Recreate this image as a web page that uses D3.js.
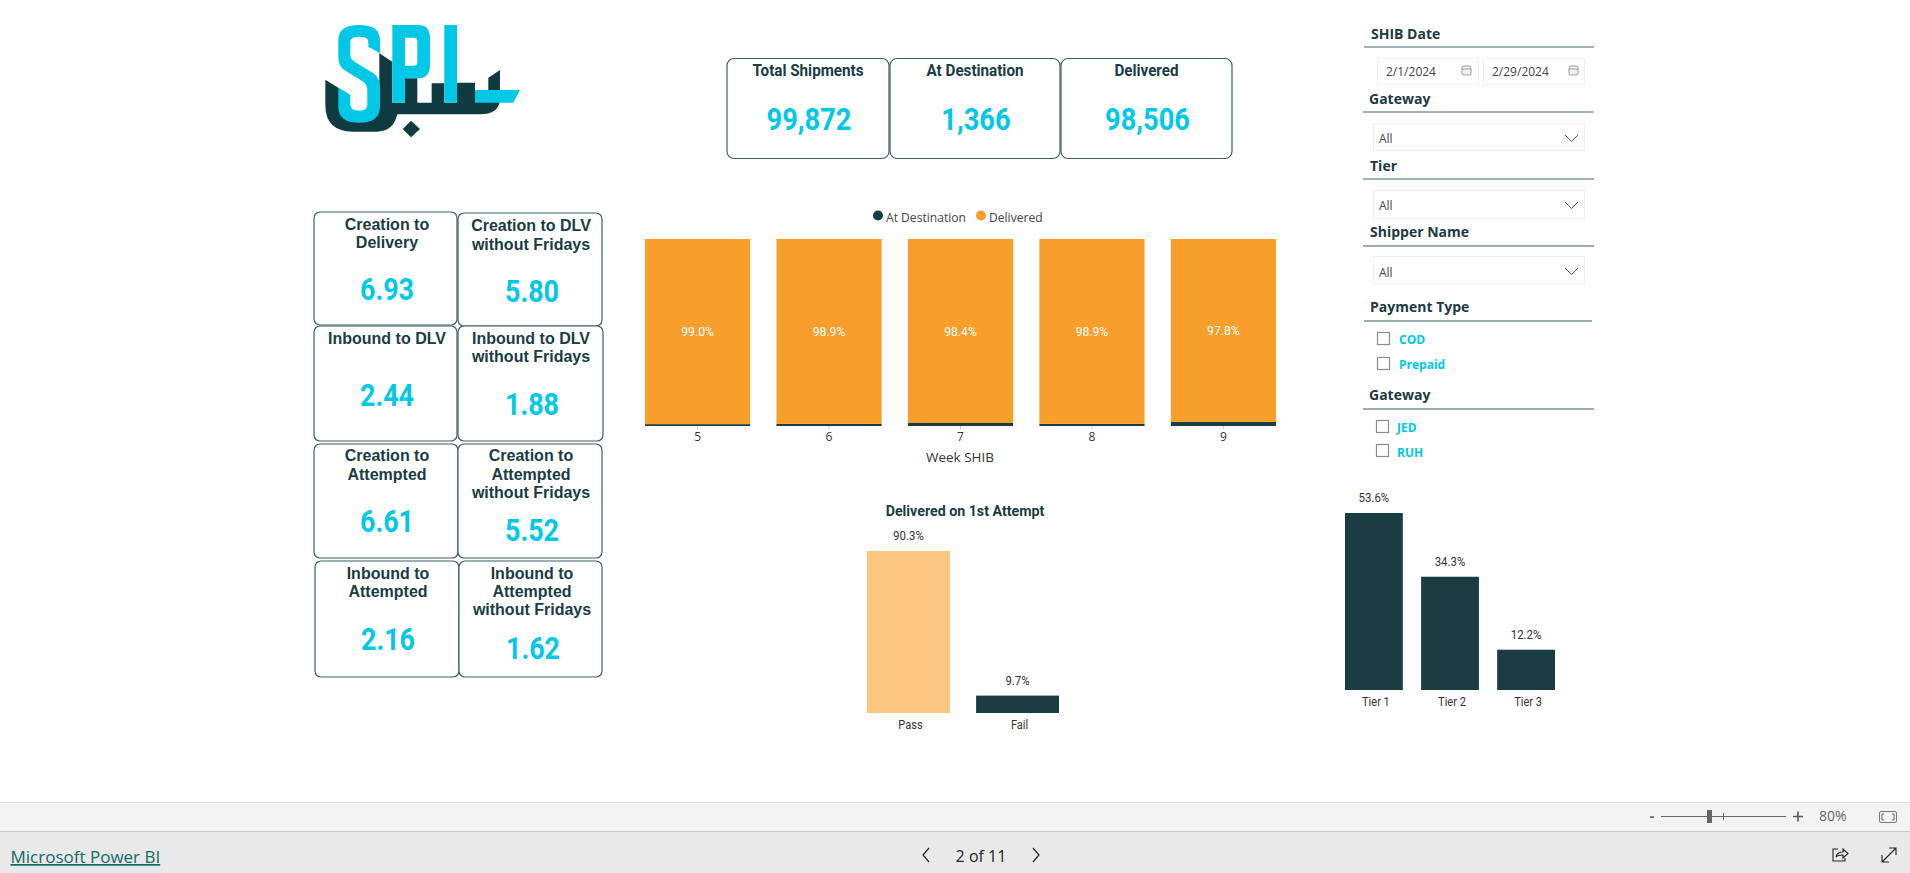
<!DOCTYPE html>
<html lang="en">
<head>
    <meta charset="UTF-8">
    <title>Shipments report</title>
    <script src="https://cdn.jsdelivr.net/npm/d3@7"></script>
    <style>
        html, body { margin: 0; padding: 0; background: #fff; overflow: hidden; }
        svg { display: block; }
    </style>
</head>
<body>
<script>

    // data
    var kpiTitles = ["Total Shipments", "At Destination", "Delivered"];
    var kpiValues = ["99,872", "1,366", "98,506"];

    var cardTitles = [
        ["Creation to", "Delivery"],
        ["Creation to DLV", "without Fridays"],
        ["Inbound to DLV"],
        ["Inbound to DLV", "without Fridays"],
        ["Creation to", "Attempted"],
        ["Creation to", "Attempted", "without Fridays"],
        ["Inbound to", "Attempted"],
        ["Inbound to", "Attempted", "without Fridays"]
    ];
    var cardValues = [6.93, 5.80, 2.44, 1.88, 6.61, 5.52, 2.16, 1.62];

    var weeks = ["5", "6", "7", "8", "9"];
    var deliveredShare = [99.0, 98.9, 98.4, 98.9, 97.8];
    var atDestinationShare = [1.0, 1.1, 1.6, 1.1, 2.2];
    var legendNames = ["At Destination", "Delivered"];

    var attemptLabels = ["Pass", "Fail"];
    var attemptShare = [90.3, 9.7];

    var tierLabels = ["Tier 1", "Tier 2", "Tier 3"];
    var tierShare = [53.6, 34.3, 12.2];

    var dateRange = ["2/1/2024", "2/29/2024"];
    var paymentTypes = ["COD", "Prepaid"];
    var gateways = ["JED", "RUH"];

    // layout, kept apart from the values
    var kpiBoxes = [[727, 889], [890, 1060], [1061, 1232]];
    var cardBoxes = [
        {x0: 314, x1: 457, y0: 212, y1: 325, lines: [230, 248], value: 300, cx: 387, vx: 387},
        {x0: 458, x1: 602, y0: 213, y1: 326, lines: [231, 250], value: 302, cx: 531, vx: 532},
        {x0: 314, x1: 457, y0: 326, y1: 441, lines: [344], value: 406, cx: 387, vx: 387},
        {x0: 458, x1: 603, y0: 326, y1: 441, lines: [344, 362], value: 415, cx: 531, vx: 532},
        {x0: 314, x1: 458, y0: 444, y1: 558, lines: [461, 480], value: 532, cx: 387, vx: 387},
        {x0: 458, x1: 602, y0: 444, y1: 558, lines: [461, 480, 498], value: 541, cx: 531, vx: 532},
        {x0: 315, x1: 459, y0: 561, y1: 677, lines: [579, 597], value: 650, cx: 388, vx: 388},
        {x0: 459, x1: 602, y0: 561, y1: 677, lines: [579, 597, 615], value: 659, cx: 532, vx: 533}
    ];

    var cyan = "#00c8e6";
    var dark = "#193d43";
    var orange = "#f89f2b";
    var din = "Roboto, sans-serif";
    var segoe = "'Open Sans', sans-serif";

    var width = 1910;
    var height = 873;

    var svg = d3.select("body").append("svg")
        .attr("width", width)
        .attr("height", height)
        .attr("viewBox", [0, 0, width, height]);

    // Roboto is wider than the report's font, so squeeze it a bit
    function condense(sel, factor) {
        sel.each(function () {
            var len = this.getComputedTextLength();
            d3.select(this)
                .attr("textLength", len * factor)
                .attr("lengthAdjust", "spacingAndGlyphs");
        });
        return sel;
    }

    function label(parent, x, y, text, size, weight, color, family, anchor) {
        return parent.append("text")
            .attr("x", x)
            .attr("y", y)
            .attr("font-size", size)
            .attr("font-weight", weight)
            .attr("fill", color)
            .attr("font-family", family)
            .attr("text-anchor", anchor || "middle")
            .text(text);
    }

    // ------------------------------------------------- //
    // logo, drawn at 3x and scaled down
    var logo = svg.append("g").attr("transform", "translate(310,10) scale(0.3333)");
    logo.append("path")
        .attr("fill", "#0f3a40")
        .attr("d", "M46,209 L120,255 V330 H170 L208,290 V130 L247,155 V278 H285 V205 H322 V278 H365 V220 H403 V278 H441 V218 H495 V240 H535 V203 L570,180 V270 Q566,313 510,313 H262 Q250,365 200,365 H130 Q46,365 46,285 Z");
    logo.append("path")
        .attr("fill", "#0f3a40")
        .attr("d", "M303,332 L330,357 L303,382 L278,357 Z");
    logo.append("path")
        .attr("fill", cyan)
        .attr("d", "M175,110 V95 Q175,80 147,80 Q121,80 121,95 V135 Q121,148 135,156 L190,190 Q210,203 210,235 V290 Q210,338 147,338 Q85,338 85,290 V233 L121,255 V285 Q121,302 147,302 Q172,302 172,285 V240 Q172,222 155,212 L103,180 Q85,168 85,140 V90 Q85,45 147,45 Q210,45 210,90 V130 Z");
    logo.append("path")
        .attr("fill", cyan)
        .attr("fill-rule", "evenodd")
        .attr("d", "M247,45 H325 Q360,45 360,85 V165 Q360,205 325,205 H285 V278 H247 Z M285,83 V167 H312 Q322,167 322,157 V93 Q322,83 312,83 Z");
    logo.append("path")
        .attr("fill", cyan)
        .attr("d", "M403,45 H441 V278 H403 Z M495,240 H630 L610,278 H495 Z");

    // ------------------------------------------------- //
    // KPI boxes on top
    var kpis = svg.append("g");
    kpiBoxes.forEach(function (b, i) {
        var cx = (b[0] + b[1]) / 2;
        kpis.append("rect")
            .attr("x", b[0]).attr("y", 58.5)
            .attr("width", b[1] - b[0]).attr("height", 100)
            .attr("rx", 7)
            .attr("fill", "#fff")
            .attr("stroke", "#3f5f64")
            .attr("stroke-width", 1.2);
        condense(label(kpis, cx, 76, kpiTitles[i], 16, 700, dark, din), 0.95);
        condense(label(kpis, cx + 1, 130, kpiValues[i], 31, 700, cyan, din), 0.88);
    });

    // ------------------------------------------------- //
    // Lead time cards on the left
    var cards = svg.append("g");
    cardBoxes.forEach(function (b, i) {
        cards.append("rect")
            .attr("x", b.x0).attr("y", b.y0)
            .attr("width", b.x1 - b.x0).attr("height", b.y1 - b.y0)
            .attr("rx", 6)
            .attr("fill", "#fff")
            .attr("stroke", "#3f5f64")
            .attr("stroke-width", 1.2);
        cardTitles[i].forEach(function (line, j) {
            label(cards, b.cx, b.lines[j], line, 16, 700, dark, "'Liberation Sans', sans-serif");
        });
        condense(label(cards, b.vx, b.value, d3.format(".2f")(cardValues[i]), 32, 700, cyan, din), 0.84);
    });

    // ------------------------------------------------- //
    // Stacked bars by week
    var weekChart = svg.append("g");
    var xWeek = d3.scaleBand().domain(weeks).range([645, 1276]).paddingInner(0.2);
    var yWeek = d3.scaleLinear().domain([0, 100]).range([426, 239]);

    weekChart.selectAll("rect.dest")
        .data(weeks)
        .join("rect")
        .attr("class", "dest")
        .attr("x", function (d) { return xWeek(d); })
        .attr("width", xWeek.bandwidth())
        .attr("y", function (d, i) { return yWeek(atDestinationShare[i]); })
        .attr("height", function (d, i) { return yWeek(0) - yWeek(atDestinationShare[i]); })
        .attr("fill", dark);

    weekChart.selectAll("rect.delivered")
        .data(weeks)
        .join("rect")
        .attr("class", "delivered")
        .attr("x", function (d) { return xWeek(d); })
        .attr("width", xWeek.bandwidth())
        .attr("y", function (d, i) { return yWeek(atDestinationShare[i] + deliveredShare[i]); })
        .attr("height", function (d, i) { return yWeek(atDestinationShare[i]) - yWeek(atDestinationShare[i] + deliveredShare[i]); })
        .attr("fill", orange);

    weeks.forEach(function (d, i) {
        var mid = yWeek(atDestinationShare[i] + deliveredShare[i] / 2);
        condense(label(weekChart, xWeek(d) + xWeek.bandwidth() / 2, mid + 4.5,
            d3.format(".1f")(deliveredShare[i]) + "%", 13.5, 400, "#fff", din), 0.9);
    });

    var weekAxis = weekChart.append("g")
        .attr("transform", "translate(0,426)")
        .call(d3.axisBottom(xWeek).tickSize(3).tickPadding(3.5));
    weekAxis.select(".domain").remove();
    weekAxis.selectAll("line").attr("stroke", "#c8c8c8");
    weekAxis.selectAll("text")
        .attr("font-size", 12)
        .attr("font-family", segoe)
        .attr("fill", "#333");

    label(weekChart, 960, 462, "Week SHIB", 13.5, 400, "#333", segoe);

    // legend
    var legendAt = [878, 981];
    legendNames.forEach(function (name, i) {
        weekChart.append("circle")
            .attr("cx", legendAt[i]).attr("cy", 215.5).attr("r", 5)
            .attr("fill", i === 0 ? dark : orange);
        condense(label(weekChart, legendAt[i] + 8, 221.5, name, 13, 400, "#444", segoe, "start"), 0.93);
    });

    // ------------------------------------------------- //
    // Small bar charts, both drawn the same way
    function barChart(labels, values, fills, x0, x1, yTop, yBase, dx) {
        var g = svg.append("g");
        var x = d3.scaleBand().domain(labels).range([x0, x1]).paddingInner(0.24);
        var y = d3.scaleLinear().domain([0, d3.max(values)]).range([yBase, yTop]);

        g.selectAll("rect")
            .data(values)
            .join("rect")
            .attr("x", function (d, i) { return x(labels[i]); })
            .attr("width", x.bandwidth())
            .attr("y", function (d) { return y(d); })
            .attr("height", function (d) { return yBase - y(d); })
            .attr("fill", function (d, i) { return fills[i]; });

        values.forEach(function (d, i) {
            condense(label(g, x(labels[i]) + x.bandwidth() / 2, y(d) - 11,
                d3.format(".1f")(d) + "%", 13, 400, "#333", din), 0.88);
        });

        var axis = g.append("g")
            .attr("transform", "translate(" + dx + "," + yBase + ")")
            .call(d3.axisBottom(x).tickSize(0).tickPadding(7.5));
        axis.select(".domain").remove();
        axis.selectAll("text")
            .attr("font-size", 12)
            .attr("font-family", din)
            .attr("fill", "#333");
        condense(axis.selectAll("text"), 0.92);
        return g;
    }

    barChart(attemptLabels, attemptShare, ["#fbc67f", dark], 867, 1059, 551, 713, 2);
    barChart(tierLabels, tierShare, [dark, dark, dark], 1345, 1555, 513, 690, 2);
    condense(label(svg, 965, 516, "Delivered on 1st Attempt", 14.5, 700, dark, din), 0.98);

    // ------------------------------------------------- //
    // Slicer pane on the right
    var pane = svg.append("g");

    function slicerHead(text, x, baseline, lineY, lineX0, lineX1, color, sw) {
        label(pane, x, baseline, text, 14, 700, "#1c3a40", segoe, "start");
        pane.append("line")
            .attr("x1", lineX0).attr("x2", lineX1)
            .attr("y1", lineY).attr("y2", lineY)
            .attr("stroke", color)
            .attr("stroke-width", sw);
    }

    function inputBox(x0, x1, y0, y1) {
        pane.append("rect")
            .attr("x", x0 + 0.5).attr("y", y0 + 0.5)
            .attr("width", x1 - x0).attr("height", y1 - y0)
            .attr("fill", "#fff")
            .attr("stroke", "#f0f0f0");
    }

    function dropdown(y0, y1, baseline) {
        inputBox(1373, 1584, y0, y1);
        label(pane, 1379, baseline, "All", 12, 400, "#444", segoe, "start");
        pane.append("path")
            .attr("d", "M1565," + (y0 + 12) + " l6.5,6.5 l6.5,-6.5")
            .attr("fill", "none")
            .attr("stroke", "#555")
            .attr("stroke-width", 1);
    }

    function calendar(x, y) {
        pane.append("rect")
            .attr("x", x).attr("y", y)
            .attr("width", 9).attr("height", 9)
            .attr("rx", 2)
            .attr("fill", "#f4f0f0")
            .attr("stroke", "#9a9a9a");
        pane.append("line")
            .attr("x1", x).attr("x2", x + 9)
            .attr("y1", y + 3).attr("y2", y + 3)
            .attr("stroke", "#9a9a9a");
    }

    function checkItem(boxX, boxY, textX, baseline, text) {
        pane.append("rect")
            .attr("x", boxX + 0.5).attr("y", boxY + 0.5)
            .attr("width", 12).attr("height", 12)
            .attr("fill", "#fff")
            .attr("stroke", "#8b8b96")
            .attr("stroke-width", 1.2);
        label(pane, textX, baseline, text, 12, 700, cyan, segoe, "start");
    }

    slicerHead("SHIB Date", 1371, 39, 47, 1364, 1594, "#a3b3b3", 2);
    inputBox(1377, 1478, 58, 84);
    inputBox(1483, 1584, 58, 84);
    label(pane, 1386, 76, dateRange[0], 12, 400, "#444", segoe, "start");
    label(pane, 1492, 76, dateRange[1], 12, 400, "#444", segoe, "start");
    calendar(1462, 66);
    calendar(1569, 66);

    slicerHead("Gateway", 1369, 104, 112, 1363, 1594, "#a3b3b3", 2);
    dropdown(123, 150, 143);
    slicerHead("Tier", 1370, 171, 179, 1363, 1594, "#46626a", 1);
    dropdown(190, 218, 210);
    slicerHead("Shipper Name", 1370, 237, 246, 1363, 1594, "#7b9298", 1.5);
    dropdown(256, 283, 277);
    slicerHead("Payment Type", 1370, 312, 321, 1364, 1592, "#7b9298", 1.5);
    checkItem(1377, 332, 1399, 344, paymentTypes[0]);
    checkItem(1377, 357, 1399, 369, paymentTypes[1]);
    slicerHead("Gateway", 1369, 400, 409, 1363, 1594, "#7b9298", 1.5);
    checkItem(1376, 420, 1397, 432, gateways[0]);
    checkItem(1376, 444, 1397, 457, gateways[1]);

    // ------------------------------------------------- //
    // Power BI footer
    var footer = svg.append("g");
    footer.append("rect").attr("x", 0).attr("y", 802).attr("width", width).attr("height", 30)
        .attr("fill", "#f3f3f3");
    footer.append("rect").attr("x", 0).attr("y", 832).attr("width", width).attr("height", 41)
        .attr("fill", "#e9e9e9");
    footer.append("line").attr("x1", 0).attr("x2", width).attr("y1", 802.5).attr("y2", 802.5)
        .attr("stroke", "#e0e0e0");
    footer.append("line").attr("x1", 0).attr("x2", width).attr("y1", 831.5).attr("y2", 831.5)
        .attr("stroke", "#cacaca");

    label(footer, 10.5, 863, "Microsoft Power BI", 17, 400, "#0f6b66", segoe, "start")
        .attr("text-decoration", "underline");
    label(footer, 981, 862, "2 of 11", 16, 400, "#252423", segoe);
    footer.append("path").attr("d", "M929,848 l-6,7 l6,7 M1033,848 l6,7 l-6,7")
        .attr("fill", "none").attr("stroke", "#252423").attr("stroke-width", 1.2);

    // zoom control
    label(footer, 1652, 821, "-", 15, 700, "#666", segoe);
    footer.append("line").attr("x1", 1661).attr("x2", 1786).attr("y1", 816.5).attr("y2", 816.5)
        .attr("stroke", "#666");
    footer.append("rect").attr("x", 1707).attr("y", 810).attr("width", 5).attr("height", 13)
        .attr("fill", "#666");
    footer.append("line").attr("x1", 1723.5).attr("x2", 1723.5).attr("y1", 813).attr("y2", 820)
        .attr("stroke", "#666");
    footer.append("path").attr("d", "M1793,816.5 h10 M1798,811.5 v10")
        .attr("fill", "none").attr("stroke", "#555").attr("stroke-width", 1.6);
    label(footer, 1819, 821, "80%", 14, 400, "#666", segoe, "start");
    footer.append("rect").attr("x", 1879.5).attr("y", 811.5).attr("width", 17).attr("height", 11)
        .attr("rx", 1.5).attr("fill", "none").attr("stroke", "#777");
    footer.append("path").attr("d", "M1884,814 h-2 v6 h2 M1892,814 h2 v6 h-2")
        .attr("fill", "none").attr("stroke", "#666");

    // share and expand icons
    footer.append("path")
        .attr("d", "M1838,849 h-5 v12 h12 v-3 M1836,857 q1,-5 7,-5 v-3 l5,4.5 l-5,4.5 v-3 q-5,0 -7,2")
        .attr("fill", "none").attr("stroke", "#222").attr("stroke-width", 1.1);
    footer.append("path")
        .attr("d", "M1882,862 L1896,848 M1889,848 h7 v7 M1882,855 v7 h7")
        .attr("fill", "none").attr("stroke", "#222").attr("stroke-width", 1.1);

</script>
</body>
</html>
